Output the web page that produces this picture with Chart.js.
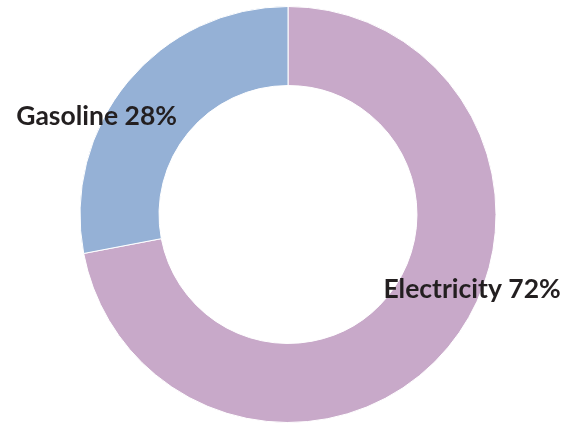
<!DOCTYPE html>
<html>
<head>
<meta charset="utf-8">
<script src="https://cdn.jsdelivr.net/npm/chart.js@4"></script>
<style>
  html, body { margin: 0; padding: 0; background: #ffffff; }
  #wrap { width: 565px; height: 425px; }
</style>
</head>
<body>
<div id="wrap"><canvas id="c" width="565" height="425"></canvas></div>
<script>
// Share of energy by source
const categories = ['Electricity', 'Gasoline'];
const shares = [72, 28];
const colors = ['#c8a9c9', '#95b1d6'];
// Label anchors, expressed as multiples of the outer radius from the centre
const labelOffsets = [[0.885, 0.36], [-0.92, -0.47]];

const sliceLabels = {
  id: 'sliceLabels',
  afterDatasetsDraw(chart) {
    const ctx = chart.ctx;
    const meta = chart.getDatasetMeta(0);
    ctx.save();
    ctx.font = 'bold 26.5px Lato, "Open Sans", sans-serif';
    ctx.fillStyle = '#231f20';
    ctx.textAlign = 'center';
    ctx.textBaseline = 'middle';
    meta.data.forEach((arc, i) => {
      const r = arc.outerRadius;
      const x = arc.x + labelOffsets[i][0] * r;
      const y = arc.y + labelOffsets[i][1] * r;
      ctx.fillText(categories[i] + ' ' + shares[i] + '%', x, y);
    });
    ctx.restore();
  }
};

new Chart(document.getElementById('c'), {
  type: 'doughnut',
  data: {
    labels: categories,
    datasets: [{
      data: shares,
      backgroundColor: colors,
      borderColor: '#ffffff',
      borderWidth: 1
    }]
  },
  options: {
    responsive: false,
    animation: false,
    cutout: '62%',
    layout: { padding: { top: 6, bottom: 2, left: 11, right: 0 } },
    plugins: {
      legend: { display: false },
      tooltip: { enabled: false }
    }
  },
  plugins: [sliceLabels]
});
</script>
</body>
</html>
